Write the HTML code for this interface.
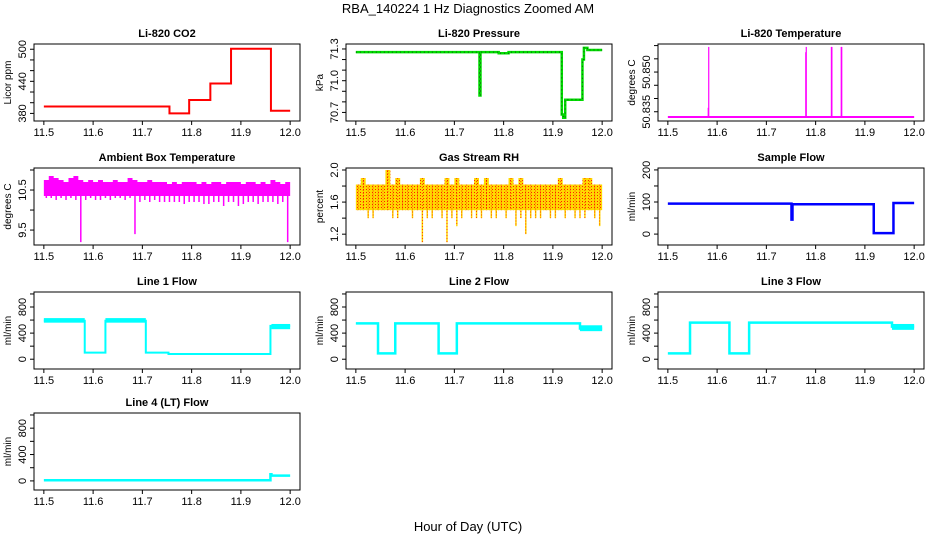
<!DOCTYPE html>
<html><head><meta charset="utf-8">
<style>
html,body{margin:0;padding:0;background:#fff;}
svg{display:block;font-family:"Liberation Sans",Arial,sans-serif;}
</style></head>
<body>
<svg id="chart" width="936" height="540" viewBox="0 0 936 540" xmlns="http://www.w3.org/2000/svg">
<rect x="0" y="0" width="936" height="540" fill="#fff"/>
<text x="468" y="13" text-anchor="middle" font-size="13">RBA_140224  1 Hz Diagnostics Zoomed AM</text>
<text x="468" y="531" text-anchor="middle" font-size="13">Hour of Day (UTC)</text>
</svg>
<script>
// ---- data ----
const xTicks = [11.5, 11.6, 11.7, 11.8, 11.9, 12.0];
const xTickLabels = ["11.5", "11.6", "11.7", "11.8", "11.9", "12.0"];

const co2Times = [11.5, 11.755, 11.795, 11.838, 11.88, 11.961, 12.0];
const co2Values = [393, 380, 405, 436, 501, 385, 385];

const presTimes = [11.5, 11.751, 11.753, 11.79, 11.81, 11.918, 11.921, 11.925, 11.96, 11.963, 11.97, 12.0];
const presValues = [71.27, 70.86, 71.27, 71.26, 71.27, 70.68, 70.65, 70.82, 71.2, 71.31, 71.29, 71.29];

const tempBase = 50.833;
const tempSpikeTimes = [11.582, 11.583, 11.78, 11.781, 11.832, 11.833, 11.852, 11.853];
const tempSpikeValues = [50.8365, 50.8595, 50.8575, 50.8595, 50.8595, 50.8595, 50.8595, 50.8595];

const ambHi = [10.75,10.85,10.8,10.75,10.7,10.8,10.85,10.75,10.7,10.75,10.7,10.75,10.7,10.7,10.75,10.7,10.7,10.8,10.75,10.7,10.7,10.75,10.7,10.7,10.7,10.65,10.7,10.65,10.7,10.7,10.7,10.65,10.7,10.65,10.7,10.7,10.65,10.7,10.7,10.7,10.65,10.7,10.7,10.65,10.7,10.65,10.75,10.7,10.65,10.7];
const ambLo = [10.3,10.3,10.25,10.3,10.25,10.3,10.25,9.2,10.25,10.3,10.25,10.25,10.3,10.25,10.3,10.3,10.25,10.3,9.4,10.2,10.25,10.2,10.25,10.2,10.2,10.2,10.2,10.2,10.15,10.2,10.2,10.2,10.15,10.15,10.2,10.2,10.1,10.2,10.2,10.1,10.15,10.2,10.2,10.15,10.2,10.2,10.2,10.15,10.2,9.2];

const rhHi = [1.82,1.9,1.82,1.82,1.82,1.82,2.0,1.82,1.9,1.82,1.82,1.82,1.82,1.9,1.82,1.82,1.82,1.82,1.9,1.82,1.9,1.82,1.82,1.82,1.9,1.82,1.9,1.82,1.82,1.82,1.82,1.9,1.82,1.9,1.82,1.82,1.82,1.82,1.82,1.82,1.82,1.9,1.82,1.82,1.82,1.82,1.9,1.9,1.82,1.82];
const rhLo = [1.5,1.5,1.4,1.4,1.5,1.5,1.5,1.4,1.4,1.5,1.5,1.4,1.5,1.1,1.4,1.4,1.5,1.4,1.1,1.4,1.3,1.4,1.5,1.4,1.4,1.4,1.5,1.4,1.4,1.5,1.4,1.5,1.3,1.4,1.2,1.4,1.4,1.4,1.5,1.4,1.4,1.5,1.4,1.5,1.4,1.4,1.4,1.5,1.4,1.3];

const sfTimes = [11.5, 11.751, 11.753, 11.918, 11.958, 12.0];
const sfValues = [95, 45, 93, 3, 97, 97];

const l1Times = [11.5, 11.583, 11.625, 11.707, 11.753, 11.96, 12.0];
const l1Values = [590, 100, 590, 100, 80, 510, 510];
const l2Times = [11.5, 11.545, 11.58, 11.668, 11.705, 11.955, 12.0];
const l2Values = [550, 90, 550, 90, 550, 470, 470];
const l3Times = [11.5, 11.545, 11.625, 11.665, 11.955, 12.0];
const l3Values = [90, 560, 90, 560, 500, 500];
const l4Times = [11.5, 11.96, 11.962, 12.0];
const l4Values = [10, 100, 80, 80];

const flowTicks = [0,200,400,600,800,1000];
const flowLabels = ["0","","400","","800",""];

// ---- layout ----
const NS = "http://www.w3.org/2000/svg";
const svg = document.getElementById('chart');
const colX = [34, 346, 658], rowY = [44, 168, 292, 413], PW = 266, PH = 77;
const XMIN = 11.48, XMAX = 12.02;

function mk(tag, attrs, parent){
  const e = document.createElementNS(NS, tag);
  for (const k in attrs) e.setAttribute(k, attrs[k]);
  (parent||svg).appendChild(e);
  return e;
}

function panel(col, row, title, ylab, ymin, ymax, yTicks, yLabels, key){
  const L = colX[col], T = rowY[row];
  const g = mk('g', {});
  
  
  const sx = v => L + (v - XMIN) / (XMAX - XMIN) * PW;
  const sy = v => T + PH - (v - ymin) / (ymax - ymin) * PH;
  const box = mk('rect', {x:L, y:T, width:PW, height:PH, fill:'none', stroke:'#000', 'stroke-width':1}, g);
  
  
  const tt = mk('text', {x:L+PW/2, y:T-7, 'text-anchor':'middle', 'font-size':11, 'font-weight':'bold'}, g);
  tt.textContent = title;
  
  
  const xa = mk('g', {}, g);
  
  
  xTicks.forEach((t, i) => {
    mk('line', {x1:sx(t), x2:sx(t), y1:T+PH, y2:T+PH+4, stroke:'#000'}, xa);
    const tx = mk('text', {x:sx(t), y:T+PH+15, 'text-anchor':'middle', 'font-size':11}, xa);
    tx.textContent = xTickLabels[i];
  });
  const ya = mk('g', {}, g);
  
  
  yTicks.forEach((t, i) => {
    mk('line', {x1:L-4, x2:L, y1:sy(t), y2:sy(t), stroke:'#000'}, ya);
    if (yLabels[i]) {
      const tx = mk('text', {transform:`translate(${L-8},${sy(t)}) rotate(-90)`, 'text-anchor':'middle', 'font-size':11}, ya);
      tx.textContent = yLabels[i];
    }
  });
  const yl = mk('text', {transform:`translate(${L-23},${T+PH/2}) rotate(-90)`, 'text-anchor':'middle', 'font-size':10}, g);
  yl.textContent = ylab;
  
  
  return {g, sx, sy};
}

function stepLine(p, times, vals, color, w, key){
  let d = '';
  for (let i = 0; i < times.length; i++) {
    const x = p.sx(times[i]), y = p.sy(vals[i]);
    if (i === 0) d += `M${x},${y}`;
    else d += `H${x}V${y}`;
  }
  const path = mk('path', {d, fill:'none', stroke:color, 'stroke-width':w}, p.g);
  
  
  return path;
}

const bandFloor = {ambient: 10.35, rh: 1.5};
const bandCeilDrop = {ambient: 0.0, rh: 0.0};

function band(p, hi, lo, color, key, dash){
  const n = hi.length, step = 0.5 / n;
  const grp = mk('g', {}, p.g);
  
  
  let top = '';
  for (let i = 0; i < n; i++) {
    const t0 = 11.5 + i * step, t1 = t0 + step;
    const v = hi[i] - bandCeilDrop[key];
    top += (i ? 'L' : 'M') + p.sx(t0) + ',' + p.sy(v) + 'L' + p.sx(t1) + ',' + p.sy(v);
  }
  let bot = '';
  for (let i = n - 1; i >= 0; i--) {
    const t0 = 11.5 + i * step, t1 = t0 + step;
    const v = Math.max(lo[i], bandFloor[key]);
    bot += `L${p.sx(t1)},${p.sy(v)}L${p.sx(t0)},${p.sy(v)}`;
  }
  mk('path', {d: top + bot + 'Z', fill:color, stroke:'none'}, grp);
  let spikes = '';
  for (let i = 0; i < n; i++) {
    const t = 11.5 + (i + 0.5) * step;
    spikes += `M${p.sx(t)},${p.sy(hi[i])}V${p.sy(lo[i])}`;
  }
  mk('path', {d: spikes, stroke:color, 'stroke-width':1.5, fill:'none'}, grp);
  if (dash) {
    mk('path', {d: top + bot + 'Z', fill:'url(#chk)', stroke:'none'}, grp);
    mk('path', {d: spikes, stroke:dash, 'stroke-width':0.8, 'stroke-dasharray':'1,2', fill:'none'}, grp);
  }
}

const defs = mk('defs', {});
const pat = mk('pattern', {id:'chk', width:3, height:3, patternUnits:'userSpaceOnUse'}, defs);
mk('rect', {x:0, y:0, width:1, height:1, fill:'#ff2000'}, pat);

let p = panel(0, 0, 'Li-820 CO2', 'Licor ppm', 365.8, 509.8, [380,400,420,440,460,480,500], ['380','','','440','','','500'], 'co2');
stepLine(p, co2Times, co2Values, '#ff0000', 2, 'co2');

p = panel(1, 0, 'Li-820 Pressure', 'kPa', 70.619, 71.347, [70.7,70.8,70.9,71.0,71.1,71.2,71.3], ['70.7','','','71.0','','','71.3'], 'pressure');
stepLine(p, presTimes, presValues, '#00dd00', 2.5, 'pressure');
stepLine(p, presTimes, presValues, '#105010', 1, 'pressure-dots').setAttribute('stroke-dasharray', '1,3');

p = panel(2, 0, 'Li-820 Temperature', 'degrees C', 50.8315, 50.8606, [50.835,50.840,50.845,50.850,50.855,50.860], ['50.835','','','50.850','',''], 'temperature');
(function(){
  const base = mk('line', {x1:p.sx(11.5), x2:p.sx(12.0), y1:p.sy(tempBase), y2:p.sy(tempBase), stroke:'#ff00ff', 'stroke-width':2}, p.g);
  
  
  tempSpikeTimes.forEach((t, i) => {
    const s = mk('line', {x1:p.sx(t), x2:p.sx(t), y1:p.sy(tempBase), y2:p.sy(tempSpikeValues[i]), stroke:'#ff00ff', 'stroke-width':1.2}, p.g);
    
    
  });
})();

p = panel(0, 1, 'Ambient Box Temperature', 'degrees C', 9.127, 11.05, [9.5,10.0,10.5,11.0], ['9.5','','10.5',''], 'ambient');
band(p, ambHi, ambLo, '#ff00ff', 'ambient');

p = panel(1, 1, 'Gas Stream RH', 'percent', 1.065, 2.025, [1.2,1.4,1.6,1.8,2.0], ['1.2','','1.6','','2.0'], 'rh');
band(p, rhHi, rhLo, '#ffd800', 'rh', '#ff2000');

p = panel(2, 1, 'Sample Flow', 'ml/min', -34, 206, [0,50,100,150,200], ['0','','100','','200'], 'sample-flow');
stepLine(p, sfTimes, sfValues, '#0000ff', 2.5, 'sample-flow');

p = panel(0, 2, 'Line 1 Flow', 'ml/min', -150, 1030, flowTicks, flowLabels, 'line1-flow');
stepLine(p, l1Times, l1Values, '#00ffff', 2, 'line1-flow');
(function(){ const r = mk('rect', {x:p.sx(11.5), y:p.sy(630), width:p.sx(11.583)-p.sx(11.5), height:p.sy(560)-p.sy(630), fill:'#00ffff'}, p.g);
  
 const r2 = mk('rect', {x:p.sx(11.625), y:p.sy(630), width:p.sx(11.707)-p.sx(11.625), height:p.sy(560)-p.sy(630), fill:'#00ffff'}, p.g);
  
 const r3 = mk('rect', {x:p.sx(11.962), y:p.sy(540), width:p.sx(12.0)-p.sx(11.962), height:p.sy(460)-p.sy(540), fill:'#00ffff'}, p.g);
   })();

p = panel(1, 2, 'Line 2 Flow', 'ml/min', -150, 1030, flowTicks, flowLabels, 'line2-flow');
stepLine(p, l2Times, l2Values, '#00ffff', 2.5, 'line2-flow');
(function(){ const r = mk('rect', {x:p.sx(11.955), y:p.sy(520), width:p.sx(12.0)-p.sx(11.955), height:p.sy(430)-p.sy(520), fill:'#00ffff'}, p.g);
   })();

p = panel(2, 2, 'Line 3 Flow', 'ml/min', -150, 1030, flowTicks, flowLabels, 'line3-flow');
stepLine(p, l3Times, l3Values, '#00ffff', 2.5, 'line3-flow');
(function(){ const r = mk('rect', {x:p.sx(11.955), y:p.sy(540), width:p.sx(12.0)-p.sx(11.955), height:p.sy(450)-p.sy(540), fill:'#00ffff'}, p.g);
   })();

p = panel(0, 3, 'Line 4 (LT) Flow', 'ml/min', -138, 1030, flowTicks, flowLabels, 'line4-flow');
stepLine(p, l4Times, l4Values, '#00ffff', 2.5, 'line4-flow');
</script>
</body></html>
